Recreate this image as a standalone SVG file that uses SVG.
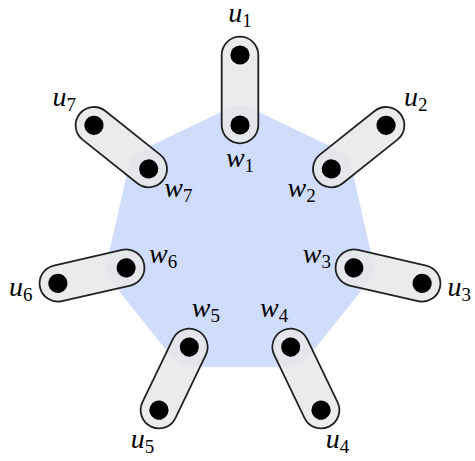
<svg xmlns="http://www.w3.org/2000/svg" width="475" height="461" viewBox="0 0 475 461">
<style>
.hull{fill:#d0dcfc;stroke:#d0dcfc;stroke-width:40;stroke-linejoin:round}
.cap{fill:#e8e8e8;fill-opacity:0.85;stroke:#222;stroke-width:1.8}
.dot{fill:#000}
.lbl{font-family:"Liberation Serif","DejaVu Serif",serif;font-style:italic;font-size:28px;fill:#000;text-anchor:middle}
.sub{font-style:normal;font-size:19px}
</style>
<defs>
<g id="pair">
<rect class="cap" x="221.7" y="36.7" width="36.6" height="106.6" rx="18.3"/>
<circle class="dot" cx="240" cy="55" r="9.6"/>
<circle class="dot" cx="240" cy="125" r="9.6"/>
</g>
</defs>
<g id="hyperedge">
<polygon class="hull" points="240,125 331.3,169 353.9,267.8 290.7,347 189.3,347 126.1,267.8 148.7,169"/>
</g>
<g id="connectors"></g>
<g id="e1"><use href="#pair"/><text class="lbl" x="240" y="22">u<tspan class="sub" dy="5">1</tspan></text><text class="lbl" x="240" y="167">w<tspan class="sub" dy="5">1</tspan></text></g>
<g id="e2"><use href="#pair" transform="rotate(51.4286 240 241.8)"/><text class="lbl" x="415.8" y="105.6">u<tspan class="sub" dy="5">2</tspan></text><text class="lbl" x="301.6" y="196.7">w<tspan class="sub" dy="5">2</tspan></text></g>
<g id="e3"><use href="#pair" transform="rotate(102.857 240 241.8)"/><text class="lbl" x="459.2" y="295.8">u<tspan class="sub" dy="5">3</tspan></text><text class="lbl" x="316.8" y="263.3">w<tspan class="sub" dy="5">3</tspan></text></g>
<g id="e4"><use href="#pair" transform="rotate(154.286 240 241.8)"/><text class="lbl" x="337.5" y="448.3">u<tspan class="sub" dy="5">4</tspan></text><text class="lbl" x="274.2" y="316.8">w<tspan class="sub" dy="5">4</tspan></text></g>
<g id="e5"><use href="#pair" transform="rotate(205.714 240 241.8)"/><text class="lbl" x="142.5" y="448.3">u<tspan class="sub" dy="5">5</tspan></text><text class="lbl" x="205.8" y="316.8">w<tspan class="sub" dy="5">5</tspan></text></g>
<g id="e6"><use href="#pair" transform="rotate(257.143 240 241.8)"/><text class="lbl" x="20.8" y="295.8">u<tspan class="sub" dy="5">6</tspan></text><text class="lbl" x="163.2" y="263.3">w<tspan class="sub" dy="5">6</tspan></text></g>
<g id="e7"><use href="#pair" transform="rotate(308.571 240 241.8)"/><text class="lbl" x="64.2" y="105.6">u<tspan class="sub" dy="5">7</tspan></text><text class="lbl" x="178.4" y="196.7">w<tspan class="sub" dy="5">7</tspan></text></g>
</svg>
